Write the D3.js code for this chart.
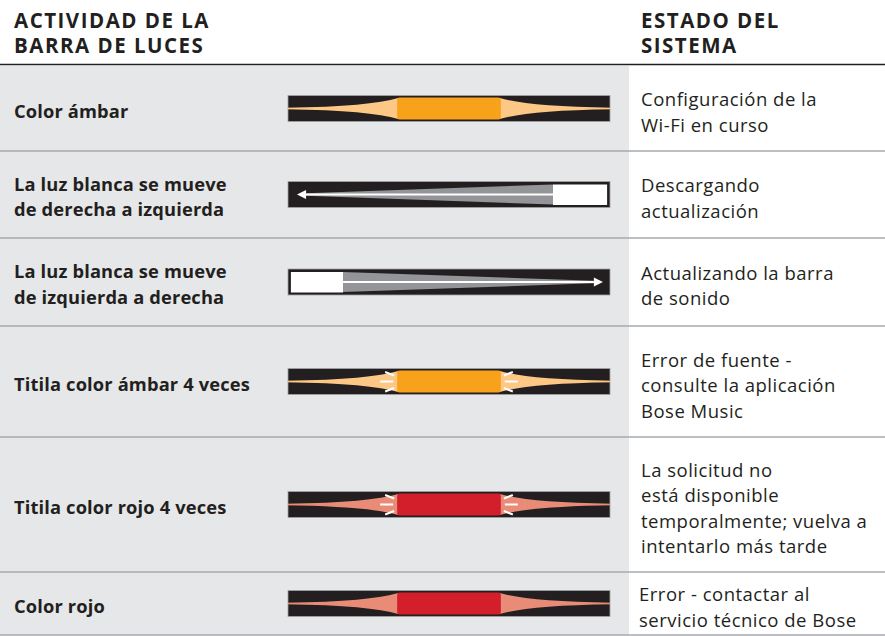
<!DOCTYPE html>
<html>
<head>
<meta charset="utf-8">
<script src="https://cdn.jsdelivr.net/npm/d3@7/dist/d3.min.js"></script>
<style>
  html, body { margin: 0; padding: 0; background: #ffffff; }
  svg { display: block; }
  text { font-family: "Open Sans", "Noto Sans", sans-serif; fill: #231f20; }
</style>
</head>
<body>
<div id="chart"></div>
<script>
// ---------------- DATA ----------------
const headerLeft = ["ACTIVIDAD DE LA", "BARRA DE LUCES"];
const headerRight = ["ESTADO DEL", "SISTEMA"];
const activities = [
  ["Color ámbar"],
  ["La luz blanca se mueve", "de derecha a izquierda"],
  ["La luz blanca se mueve", "de izquierda a derecha"],
  ["Titila color ámbar 4 veces"],
  ["Titila color rojo 4 veces"],
  ["Color rojo"]
];
const statuses = [
  ["Configuración de la", "Wi-Fi en curso"],
  ["Descargando", "actualización"],
  ["Actualizando la barra", "de sonido"],
  ["Error de fuente -", "consulte la aplicación", "Bose Music"],
  ["La solicitud no", "está disponible", "temporalmente; vuelva a", "intentarlo más tarde"],
  ["Error - contactar al", "servicio técnico de Bose"]
];
const patterns = ["solid", "toLeft", "toRight", "blink", "blink", "solid"];
const lightColors = ["amber", "white", "white", "amber", "red", "red"];

// ---------------- STYLE / LAYOUT ----------------
const W = 885, H = 636;
const palette = {
  amber: { block: "#f8a21c", glow: "#fdc886" },
  red:   { block: "#d21f2b", glow: "#e98c77" },
  white: { block: "#ffffff", glow: "#939598" }
};
const rowEdges = [66, 151, 238, 326, 437, 572, 635];
const grayRight = 629;
const leftX = 14, rightX = 641;
const lineH = 25.5;

const svg = d3.select("#chart").append("svg").attr("width", W).attr("height", H);

// background gray column
svg.append("rect").attr("x", 0).attr("y", rowEdges[0])
  .attr("width", grayRight).attr("height", rowEdges[rowEdges.length - 1] - rowEdges[0])
  .attr("fill", "#e6e7e8");

// header rule
svg.append("line").attr("x1", 0).attr("x2", W).attr("y1", 64.5).attr("y2", 64.5)
  .attr("stroke", "#231f20").attr("stroke-width", 1.6);

// headers
function header(lines, x) {
  const t = svg.append("text").attr("x", x).attr("y", 27.5)
    .attr("font-weight", 700).attr("font-size", 20.5).attr("letter-spacing", 1.5);
  lines.forEach((l, i) => t.append("tspan").attr("x", x).attr("dy", i === 0 ? 0 : 25.5).text(l));
}
header(headerLeft, leftX);
header(headerRight, rightX);

// row separators
svg.selectAll("line.sep").data(rowEdges.slice(1)).join("line")
  .attr("class", "sep").attr("x1", 0).attr("x2", W)
  .attr("y1", d => d).attr("y2", d => d)
  .attr("stroke", "#a7a9ac").attr("stroke-width", 1.4);

const rows = activities.map((a, i) => ({
  act: a, status: statuses[i], pattern: patterns[i], color: lightColors[i],
  top: rowEdges[i], bottom: rowEdges[i + 1], cy: (rowEdges[i] + rowEdges[i + 1]) / 2
}));

// texts
function multiline(g, lines, x, cy, weight, size, spacing) {
  const t = g.append("text").attr("x", x).attr("font-size", size)
    .attr("font-weight", weight).attr("letter-spacing", spacing);
  const y0 = cy - (lines.length - 1) * lineH / 2 + 8;
  lines.forEach((l, i) => t.append("tspan").attr("x", x).attr("y", y0 + i * lineH).text(l));
}
rows.forEach((r, i) => {
  multiline(svg, r.act, leftX, r.cy + 1, 700, 18.3, 0.15);
  multiline(svg, r.status, i === rows.length - 1 ? rightX - 2 : rightX, r.cy + 2.5, 400, 18.5, 0.5);
});

// light bar scale (relative units 0..100 across the bar)
const bx = d3.scaleLinear().domain([0, 100]).range([288, 610]);
const barH = 26, blockH = 22;
const blockL = 33.9, blockR = 66.1;

rows.forEach(r => {
  const g = svg.append("g");
  const cy = r.cy;
  const c = palette[r.color];
  g.append("rect").attr("x", bx(0)).attr("y", cy - barH / 2)
    .attr("width", bx(100) - bx(0)).attr("height", barH)
    .attr("fill", "#231f20").attr("stroke", "#a3a3a3").attr("stroke-width", 0.8);

  if (r.pattern === "solid" || r.pattern === "blink") {
    g.append("rect").attr("x", bx(0)).attr("y", cy - 0.6).attr("width", bx(100) - bx(0))
      .attr("height", 1.2).attr("fill", c.glow);
    const hb = blockH / 2 - 0.5;
    const L0 = bx(0), L1 = bx(blockL), R0 = bx(100), R1 = bx(blockR);
    const pl = d3.path();
    pl.moveTo(L0, cy - 0.7);
    pl.quadraticCurveTo(L1 - 27, cy - 2, L1 + 1, cy - hb);
    pl.lineTo(L1 + 1, cy + hb);
    pl.quadraticCurveTo(L1 - 27, cy + 2, L0, cy + 0.7);
    pl.closePath();
    g.append("path").attr("d", pl.toString()).attr("fill", c.glow);
    const pr = d3.path();
    pr.moveTo(R0, cy - 0.7);
    pr.quadraticCurveTo(R1 + 27, cy - 2, R1 - 1, cy - hb);
    pr.lineTo(R1 - 1, cy + hb);
    pr.quadraticCurveTo(R1 + 27, cy + 2, R0, cy + 0.7);
    pr.closePath();
    g.append("path").attr("d", pr.toString()).attr("fill", c.glow);
    g.append("rect").attr("x", L1).attr("y", cy - blockH / 2)
      .attr("width", R1 - L1).attr("height", blockH).attr("rx", 2.5)
      .attr("fill", c.block);
    if (r.pattern === "blink") {
      const mid = (L1 + R1) / 2;
      const ticks = [
        [[L1 - 17, cy], [L1 - 4, cy]],
        [[L1 - 12, cy - 9.5], [L1 - 3, cy - 6]],
        [[L1 - 12, cy + 10], [L1 - 3, cy + 6.5]]
      ];
      const all = ticks.concat(ticks.map(t => t.map(p => [2 * mid - p[0], p[1]])));
      g.selectAll("line.tick").data(all).join("line")
        .attr("x1", d => d[0][0]).attr("y1", d => d[0][1])
        .attr("x2", d => d[1][0]).attr("y2", d => d[1][1])
        .attr("stroke", "#ffffff").attr("stroke-width", 2);
    }
  } else {
    const toLeft = r.pattern === "toLeft";
    const bA = toLeft ? 82.3 : 0.9, bB = toLeft ? 99.1 : 17.1;
    const tip = toLeft ? 2.8 : 97.8, base = toLeft ? 5.6 : 95.0;
    const edge = toLeft ? bA : bB;
    const hb = 10;
    g.append("path").attr("d", d3.line()([
      [bx(edge), cy - hb], [bx(base), cy - 1.2], [bx(base), cy + 1.2], [bx(edge), cy + hb]
    ]) + "Z").attr("fill", c.glow);
    g.append("line").attr("x1", bx(base)).attr("x2", bx(edge)).attr("y1", cy).attr("y2", cy)
      .attr("stroke", "#ffffff").attr("stroke-width", 2);
    g.append("path").attr("d", d3.line()([
      [bx(tip), cy], [bx(base), cy - 4.5], [bx(base), cy + 4.5]
    ]) + "Z").attr("fill", "#ffffff");
    g.append("rect").attr("x", bx(bA)).attr("y", cy - hb)
      .attr("width", bx(bB) - bx(bA)).attr("height", 2 * hb + 0.5)
      .attr("fill", c.block);
  }
});
</script>
</body>
</html>
